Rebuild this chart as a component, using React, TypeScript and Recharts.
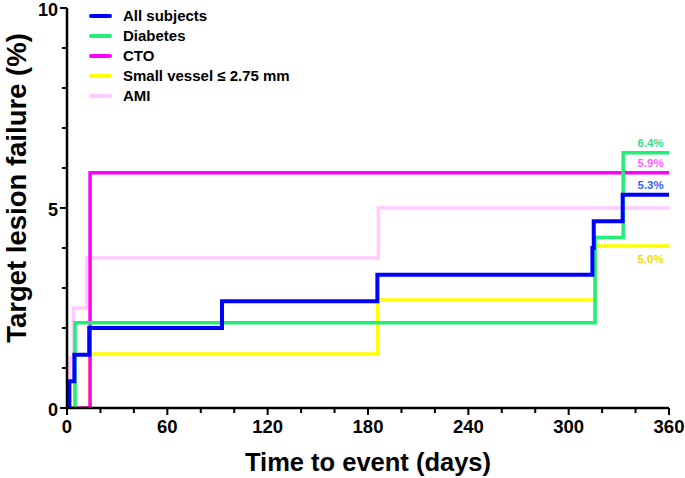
import React from 'react';
import { LineChart, Line, XAxis, YAxis, ReferenceDot } from 'recharts';

const FONT = '"Liberation Sans", Arial, Helvetica, sans-serif';

// series, in legend order
const seriesNames = ['All subjects', 'Diabetes', 'CTO', 'Small vessel \u2264 2.75 mm', 'AMI'];
const seriesColors = ['#0000ff', '#22ee77', '#ff00ff', '#ffff00', '#ffccff'];
const seriesWidths = [4, 3.5, 3.5, 3.5, 3.5];

// step points (day of event, cumulative TLF %)
const allDays = [0, 1.4, 4.4, 13.3, 92.7, 185.6, 314.2, 315, 332.3, 360];
const allRate = [0, 0.67, 1.33, 2.0, 2.67, 3.33, 4.0, 4.67, 5.33, 5.33];

const diabetesDays = [0, 4.8, 315.8, 332.6, 360];
const diabetesRate = [0, 2.13, 4.26, 6.38, 6.38];

const ctoDays = [0, 13.8, 360];
const ctoRate = [0, 5.88, 5.88];

const smallDays = [0, 13.5, 185.8, 315.8, 360];
const smallRate = [0, 1.35, 2.7, 4.05, 4.05];

const amiDays = [0, 1.4, 3.8, 11.8, 186.2, 360];
const amiRate = [0, 1.25, 2.5, 3.75, 5.0, 5.0];

// annotations at the right end
const endLabelText = ['6.4%', '5.9%', '5.3%', '5.0%'];
const endLabelValue = [6.38, 5.88, 5.33, 4.05];
const endLabelColor = ['#33dd88', '#ff66ff', '#3366ff', '#eedd00'];
const endLabelSide = ['top', 'top', 'top', 'bottom'];

const xTicks = [0, 20, 40, 60, 80, 100, 120, 140, 160, 180, 200, 220, 240, 260, 280, 300, 320, 340, 360];
const yTicks = [0, 1, 2, 3, 4, 5, 6, 7, 8, 9, 10];

const toPoints = (days: number[], rate: number[]) => days.map((d, i) => ({ day: d, rate: rate[i] }));

const seriesData = [
  toPoints(allDays, allRate),
  toPoints(diabetesDays, diabetesRate),
  toPoints(ctoDays, ctoRate),
  toPoints(smallDays, smallRate),
  toPoints(amiDays, amiRate),
];

// draw back to front
const drawOrder = [4, 3, 2, 1, 0];

const XTick = (props: any) => {
  const { x, y, payload } = props;
  const major = payload.value % 60 === 0;
  return (
    <g>
      <line x1={x} x2={x} y1={y} y2={y + (major ? 7 : 5)} stroke="#000" strokeWidth={2} />
      {major && (
        <text x={x} y={y + 25} textAnchor="middle" fontFamily={FONT} fontWeight="bold" fontSize={18.5} fill="#000">
          {payload.value}
        </text>
      )}
    </g>
  );
};

const YTick = (props: any) => {
  const { x, y, payload } = props;
  const major = payload.value % 5 === 0;
  return (
    <g>
      <line x1={x} x2={x - (major ? 7 : 5)} y1={y} y2={y} stroke="#000" strokeWidth={2} />
      {major && (
        <text x={x - 9} y={y + 7.5} textAnchor="end" fontFamily={FONT} fontWeight="bold" fontSize={18} fill="#000">
          {payload.value}
        </text>
      )}
    </g>
  );
};

const LegendBox = () => (
  <div
    style={{
      position: 'absolute',
      left: 89,
      top: 6,
      fontFamily: FONT,
      fontWeight: 'bold',
      fontSize: 15,
      color: '#000',
      lineHeight: '20px',
    }}
  >
    {seriesNames.map((name, i) => (
      <div key={name} style={{ display: 'flex', alignItems: 'center', height: 20 }}>
        <div style={{ width: 23, height: 4, borderRadius: 2, background: seriesColors[i], marginRight: 11 }} />
        <span>{name}</span>
      </div>
    ))}
  </div>
);

export default function App() {
  return (
    <div style={{ position: 'absolute', left: 0, top: 0, width: 685, height: 478, background: '#fff' }}>
      <LineChart width={685} height={478} margin={{ top: 8, right: 16, left: 0, bottom: 0 }}>
        <XAxis
          type="number"
          dataKey="day"
          domain={[0, 360]}
          ticks={xTicks}
          interval={0}
          allowDataOverflow
          tick={<XTick />}
          tickSize={0}
          tickMargin={0}
          tickLine={false}
          axisLine={{ stroke: '#000', strokeWidth: 2.5 }}
          height={70}
          label={{
            content: () => (
              <text x={368} y={471} textAnchor="middle" fontFamily={FONT} fontWeight="bold" fontSize={25.5} fill="#000">
                Time to event (days)
              </text>
            ),
          }}
        />
        <YAxis
          type="number"
          dataKey="rate"
          domain={[0, 10]}
          ticks={yTicks}
          interval={0}
          allowDataOverflow
          tick={<YTick />}
          tickSize={0}
          tickMargin={0}
          tickLine={false}
          axisLine={{ stroke: '#000', strokeWidth: 2.5 }}
          width={67}
          label={{
            content: () => (
              <text
                x={16}
                y={188}
                transform="rotate(-90, 16, 188)"
                textAnchor="middle"
                dominantBaseline="central"
                fontFamily={FONT}
                fontWeight="bold"
                fontSize={27.5}
                fill="#000"
              >
                Target lesion failure (%)
              </text>
            ),
          }}
        />
        {drawOrder.map((i) => (
          <Line
            key={seriesNames[i]}
            data={seriesData[i]}
            dataKey="rate"
            name={seriesNames[i]}
            type="stepAfter"
            stroke={seriesColors[i]}
            strokeWidth={seriesWidths[i]}
            dot={false}
            activeDot={false}
            isAnimationActive={false}
          />
        ))}
        {endLabelText.map((t, i) => (
          <ReferenceDot
            key={t}
            x={349}
            y={endLabelValue[i]}
            r={0}
            stroke="none"
            fill="none"
            label={{
              value: t,
              position: endLabelSide[i] as any,
              offset: endLabelSide[i] === 'bottom' ? 9 : 6,
              fill: endLabelColor[i],
              fontFamily: FONT,
              fontWeight: 'bold',
              fontSize: 11.5,
            }}
          />
        ))}
      </LineChart>
      <LegendBox />
    </div>
  );
}
